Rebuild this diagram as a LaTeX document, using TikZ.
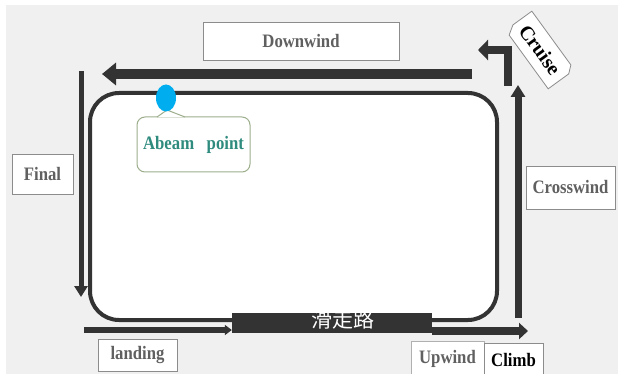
\documentclass[tikz,border=0pt]{standalone}
\usepackage{fontspec}
\setmainfont{Liberation Serif}
\newfontfamily\cjk{Noto Sans CJK SC}
\usetikzlibrary{arrows.meta,shapes.geometric,calc}
\definecolor{bg}{HTML}{F0F0F0}
\definecolor{ink}{HTML}{333333}
\definecolor{lbl}{HTML}{606060}
\definecolor{boxline}{HTML}{8C8C8C}
\definecolor{boxlight}{HTML}{B0B0B0}
\definecolor{tealtext}{HTML}{2E8B7E}
\definecolor{callout}{HTML}{9DAE8C}
\definecolor{dot}{HTML}{00AEEF}
\newcommand\sq[1]{\scalebox{0.88}[1]{#1}}
\begin{document}
\begin{tikzpicture}[x=1pt,y=-1pt,
  lblfont/.style={font=\fontsize{19}{20}\selectfont\bfseries},
  lblbox/.style={draw=boxline, line width=0.8pt, fill=white, inner sep=0pt, lblfont, text=lbl},
  flow/.style={draw=ink, line width=#1}]
\useasboundingbox (0,0) rectangle (618,374);
\fill[white] (0,0) rectangle (618,374);
\fill[bg] (6,5) rectangle (618,374);

% circuit
\node[draw=ink, line width=4pt, fill=white, rounded corners=29pt,
      minimum width=407pt, minimum height=227pt, inner sep=0pt] (circuit) at (293.5,206.5) {};

% runway
\node[fill=ink, minimum width=200pt, minimum height=20pt, inner sep=0pt] (runway) at (332,323) {};
\node[text=white, font=\cjk\fontsize{21}{21}\selectfont, inner sep=0pt] (rwtext) at (343,320) {滑走路};

% arrow end points
\coordinate (finS) at (81,71);   \coordinate (finE) at (81,297);
\coordinate (dwS) at (472,74);   \coordinate (dwE) at (102,74);
\coordinate (crS) at (508,86);   \coordinate (crM) at (508,50); \coordinate (crE) at (478,50);
\coordinate (cwS) at (518,318);  \coordinate (cwE) at (518,85);
\coordinate (ldS) at (84,330);
\coordinate (clE) at (528,331);

% arrows
\draw[flow=5pt, -{Triangle[width=13pt,length=11pt]}] (finS) -- (finE);
\draw[flow=10pt, -{Triangle[width=22pt,length=14pt]}] (dwS) -- (dwE);
\draw[flow=8pt, line join=miter, -{Triangle[width=20pt,length=10pt]}] (crS) -- (crM) -- (crE);
\draw[flow=7pt, -{Triangle[width=14pt,length=12pt]}] (cwS) -- (cwE);
\draw[flow=6pt, -{Triangle[width=10pt,length=7pt]}] (ldS) -- (runway.west |- ldS);
\draw[flow=8pt, -{Triangle[width=16pt,length=9pt]}] (runway.east |- clE) -- (clE);

% labels
\node[lblbox, minimum width=196pt, minimum height=38pt] (downwind) at (301,41) {\sq{Downwind}};
\node[lblbox, minimum width=61pt, minimum height=40pt] (final) at (42.5,174) {\sq{Final}};
\node[lblbox, minimum width=89pt, minimum height=43pt] (crosswind) at (570.5,187.5) {\sq{Crosswind}};
\node[lblbox, minimum width=79pt, minimum height=32pt] (landing) at (137.5,355) {\sq{landing}};
\node[lblbox, draw=boxlight, minimum width=73pt, minimum height=36pt] (upwind) at (447.5,359) {\sq{Upwind}};
\node[lblbox, text=black, minimum width=59pt, minimum height=34pt] (climb) at (513.5,360) {\sq{Climb}};

% cruise tag
\node[rotate=-54, minimum width=72pt, minimum height=32pt, inner sep=0pt] (cruise) at (540,50) {};
\draw[boxline, line width=0.8pt, fill=white]
  (cruise.north west)
  -- ($(cruise.north east)!6pt!(cruise.north west)$)
  -- ($(cruise.north east)!7pt!(cruise.south east)$)
  -- (cruise.south east)
  -- ($(cruise.south west)!6pt!(cruise.south east)$)
  -- ($(cruise.south west)!9pt!(cruise.north west)$)
  -- cycle;
\node[rotate=-54, inner sep=0pt, font=\fontsize{20}{20}\selectfont\bfseries, text=black] (cruisetext) at (cruise.center) {Cruise};

% abeam callout
\node[draw=callout, line width=1pt, fill=white, rounded corners=8pt,
      minimum width=113pt, minimum height=55pt, inner sep=0pt, lblfont, text=tealtext] (abeambox) at (193.5,144.5) {\sq{Abeam\ \ \ point}};
\coordinate (pL) at (157,117);
\coordinate (pT) at (167,110);
\coordinate (pR) at (185,117);
\fill[white] (pL) -- (pT) -- (pR) -- cycle;
\draw[callout, line width=1pt] (pL) -- (pT) -- (pR);
\node[ellipse, fill=dot, minimum width=20pt, minimum height=27pt, inner sep=0pt] (abeam) at (166,98) {};
\end{tikzpicture}
\end{document}
